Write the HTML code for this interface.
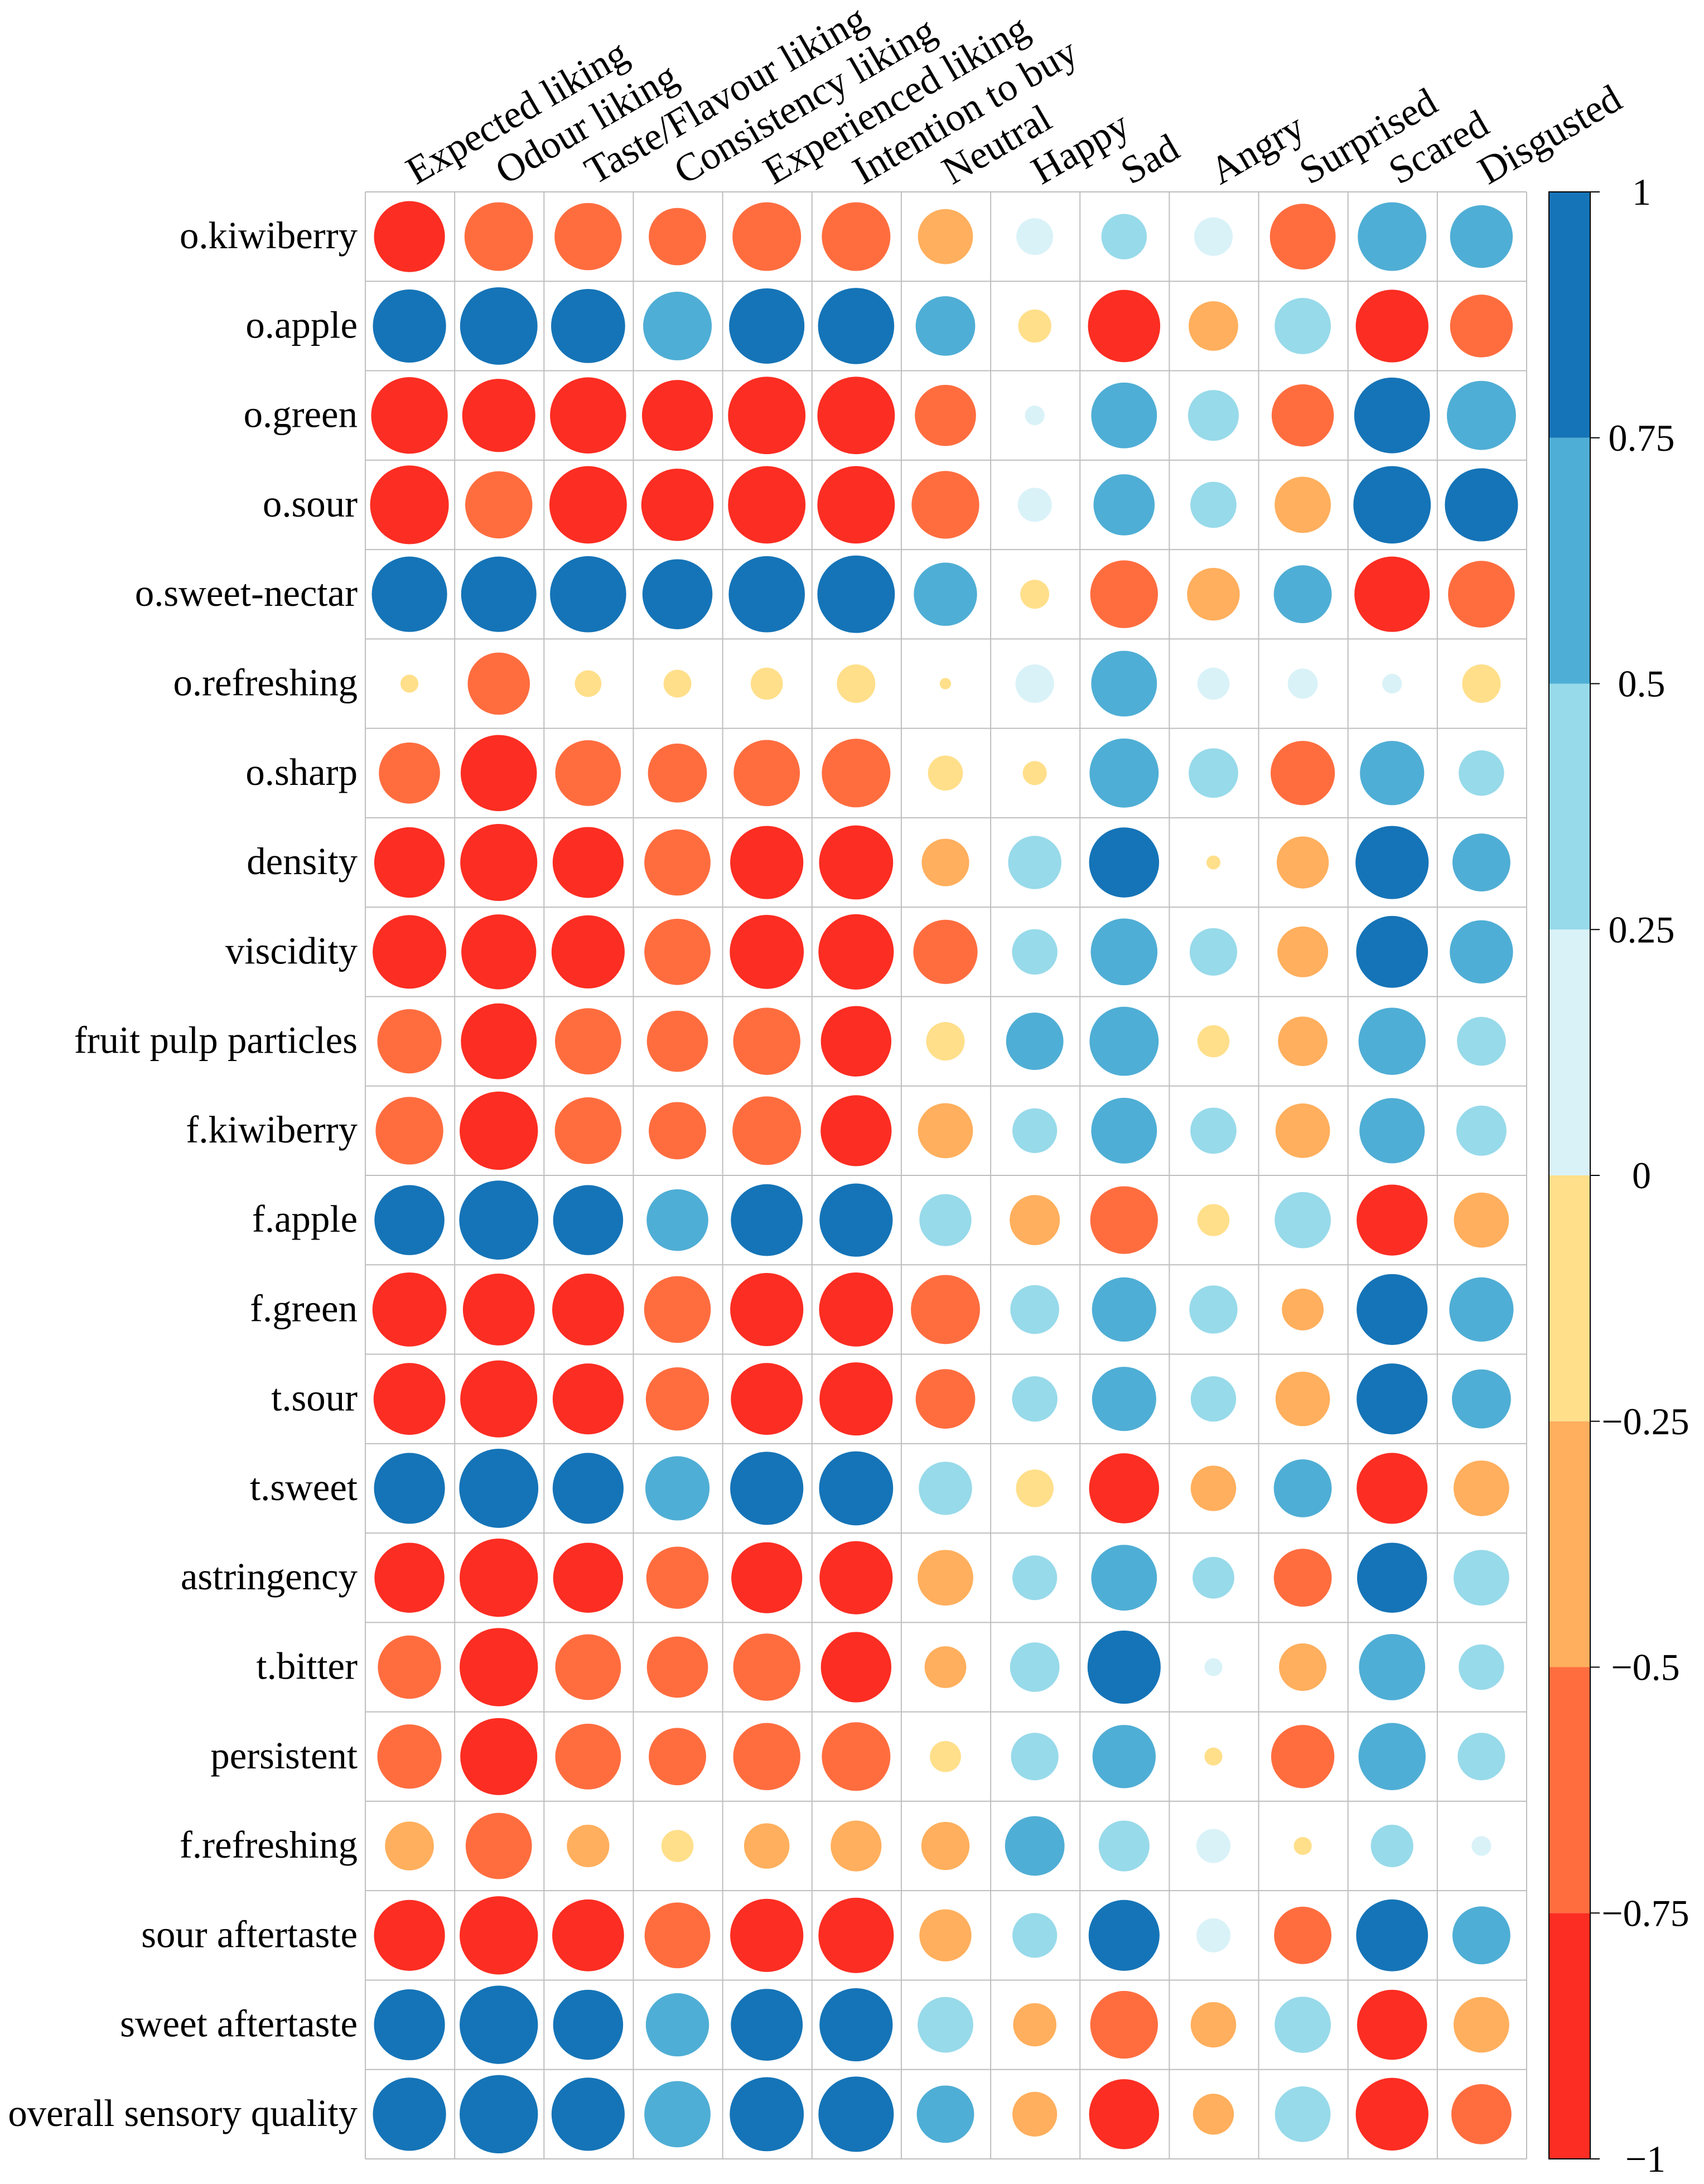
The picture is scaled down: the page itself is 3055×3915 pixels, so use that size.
<!DOCTYPE html>
<html lang="en">
<head>
<meta charset="utf-8">
<title>Sensory attributes correlation plot</title>
<style>
html,body{margin:0;padding:0;background:#fff;width:3055px;height:3915px;overflow:hidden}
svg{display:block}
text{font-family:"Liberation Serif","Times New Roman",serif;font-size:68px;fill:#000}
</style>
</head>
<body>
<svg id="chart" xmlns="http://www.w3.org/2000/svg" width="3055" height="3915" viewBox="0 0 3055 3915"></svg>
<script>
const rowLabels = ["o.kiwiberry","o.apple","o.green","o.sour","o.sweet-nectar","o.refreshing","o.sharp","density","viscidity","fruit pulp particles","f.kiwiberry","f.apple","f.green","t.sour","t.sweet","astringency","t.bitter","persistent","f.refreshing","sour aftertaste","sweet aftertaste","overall sensory quality"];
const columnLabels = ["Expected liking","Odour liking","Taste/Flavour liking","Consistency liking","Experienced liking","Intention to buy","Neutral","Happy","Sad","Angry","Surprised","Scared","Disgusted"];
const correlations = [
[-.78,-.73,-.70,-.51,-.73,-.73,-.47,.21,.32,.23,-.67,.73,.61],
[.83,.93,.85,.73,.88,.90,.55,-.17,-.81,-.38,.49,-.82,-.61],
[-.91,-.83,-.90,-.78,-.93,-.93,-.58,.06,.67,.40,-.60,.89,.74],
[-.96,-.70,-.93,-.81,-.93,-.93,-.71,.18,.58,.33,-.49,.93,.83],
[.88,.88,.90,.76,.90,.93,.62,-.13,-.71,-.43,.52,-.88,-.69],
[-.05,-.60,-.11,-.12,-.16,-.23,-.02,.23,.67,.16,.14,.06,-.23],
[-.58,-.90,-.67,-.54,-.68,-.73,-.19,-.09,.74,.38,-.64,.64,.32],
[-.77,-.92,-.78,-.68,-.83,-.85,-.35,.44,.76,-.03,-.42,.83,.52],
[-.84,-.87,-.83,-.68,-.85,-.88,-.64,.32,.69,.35,-.40,.80,.62],
[-.64,-.89,-.68,-.58,-.70,-.77,-.23,.51,.74,-.16,-.38,.70,.37],
[-.71,-.95,-.69,-.51,-.73,-.78,-.47,.31,.67,.33,-.46,.66,.39],
[.76,.97,.76,.59,.80,.83,.42,-.39,-.71,-.16,.49,-.78,-.47],
[-.85,-.80,-.80,-.69,-.83,-.85,-.74,.37,.64,.36,-.27,.78,.64],
[-.80,-.92,-.78,-.62,-.80,-.83,-.55,.32,.64,.32,-.46,.78,.54],
[.78,.97,.78,.64,.83,.85,.44,-.22,-.76,-.32,.52,-.78,-.48],
[-.76,-.95,-.76,-.60,-.78,-.83,-.48,.31,.67,.27,-.52,.76,.48],
[-.62,-.95,-.67,-.58,-.70,-.77,-.27,.38,.83,.05,-.35,.68,.32],
[-.64,-.92,-.67,-.51,-.70,-.73,-.15,.35,.62,-.05,-.62,.70,.35],
[-.37,-.68,-.28,-.16,-.32,-.40,-.36,.55,.40,.18,-.05,.28,.06],
[-.78,-.95,-.80,-.67,-.83,-.88,-.42,.31,.78,.18,-.51,.80,.52],
[.78,.95,.76,.62,.80,.83,.48,-.29,-.71,-.32,.49,-.76,-.48],
[.83,.95,.83,.68,.85,.88,.51,-.31,-.76,-.26,.48,-.82,-.56]
];
const legendTicks = [1,0.75,0.5,0.25,0,-0.25,-0.5,-0.75,-1];
const palette = ["#FC2D22","#FF6D3F","#FFAF5D","#FFDF8A","#D9F2F8","#97DAEA","#4FAED5","#1574B7"];

const svgNS = "http://www.w3.org/2000/svg";
const svg = document.getElementById("chart");
const GRID = {left:655, top:344, right:2737, bottom:3870};
const BAR = {left:2777, right:2851, tick:2868, top:344, bottom:3870};
const cellW = (GRID.right-GRID.left)/columnLabels.length;
const cellH = (GRID.bottom-GRID.top)/rowLabels.length;
const xScale = c => GRID.left + (c+0.5)*cellW;
const yScale = r => GRID.top + (r+0.5)*cellH;
const radiusScale = v => 72*Math.sqrt(Math.abs(v));
const colorScale = v => palette[Math.max(0,Math.min(palette.length-1,Math.floor((v+1)/0.25)))];
const legendY = v => BAR.bottom - (v+1)/2*(BAR.bottom-BAR.top);
const minusText = v => String(v).replace("-","\u2212");
function make(tag, parent){
  const el = document.createElementNS(svgNS, tag);
  parent.appendChild(el);
  return el;
}

const gridGroup = make("g", svg);


for(let i=0;i<=columnLabels.length;i++){
  const l = make("line", gridGroup);
  
  
  const x = GRID.left+i*cellW;
  l.setAttribute("x1",x); l.setAttribute("x2",x);
  l.setAttribute("y1",GRID.top); l.setAttribute("y2",GRID.bottom);
  l.setAttribute("stroke","#BEBEBE"); l.setAttribute("stroke-width","2");
}
for(let i=0;i<=rowLabels.length;i++){
  const l = make("line", gridGroup);
  
  
  const y = GRID.top+i*cellH;
  l.setAttribute("x1",GRID.left); l.setAttribute("x2",GRID.right);
  l.setAttribute("y1",y); l.setAttribute("y2",y);
  l.setAttribute("stroke","#BEBEBE"); l.setAttribute("stroke-width","2");
}

correlations.forEach((row,r)=>{
  row.forEach((v,c)=>{
    const dot = make("circle", svg);
    
    
    dot.setAttribute("cx",xScale(c)-1);
    dot.setAttribute("cy",yScale(r));
    dot.setAttribute("r",radiusScale(v));
    dot.setAttribute("fill",colorScale(v));
  });
});

rowLabels.forEach((name,r)=>{
  const t = make("text", svg);
  
  
  t.setAttribute("x",641);
  t.setAttribute("y",yScale(r)+21);
  t.setAttribute("text-anchor","end");
  t.setAttribute("style","font-size:68.8px");
  t.textContent = name;
});

columnLabels.forEach((name,c)=>{
  const t = make("text", svg);
  
  
  t.setAttribute("transform","translate("+(xScale(c)+11)+" 332) rotate(-30)");
  t.setAttribute("style","font-size:70.5px");
  t.textContent = name;
});

const legendGroup = make("g", svg);


palette.forEach((col,i)=>{
  const from = -1+i*0.25;
  const seg = make("rect", legendGroup);
  
  
  seg.setAttribute("x",BAR.left);
  seg.setAttribute("y",legendY(from+0.25));
  seg.setAttribute("width",BAR.right-BAR.left);
  seg.setAttribute("height",legendY(from)-legendY(from+0.25));
  seg.setAttribute("fill",col);
});
const frame = make("rect", legendGroup);


frame.setAttribute("x",BAR.left);
frame.setAttribute("y",BAR.top);
frame.setAttribute("width",BAR.right-BAR.left);
frame.setAttribute("height",BAR.bottom-BAR.top);
frame.setAttribute("fill","none");
frame.setAttribute("stroke","#000");
frame.setAttribute("stroke-width","2");
legendTicks.forEach(v=>{
  const tick = make("line", legendGroup);
  
  
  tick.setAttribute("x1",BAR.right);
  tick.setAttribute("x2",BAR.tick);
  tick.setAttribute("y1",legendY(v));
  tick.setAttribute("y2",legendY(v));
  tick.setAttribute("stroke","#000");
  tick.setAttribute("stroke-width","2");
  const t = make("text", legendGroup);
  
  
  t.setAttribute("x",v<0?2950:2943);
  t.setAttribute("y",legendY(v)+23);
  t.setAttribute("text-anchor","middle");
  t.textContent = minusText(v);
});
</script>
</body>
</html>
